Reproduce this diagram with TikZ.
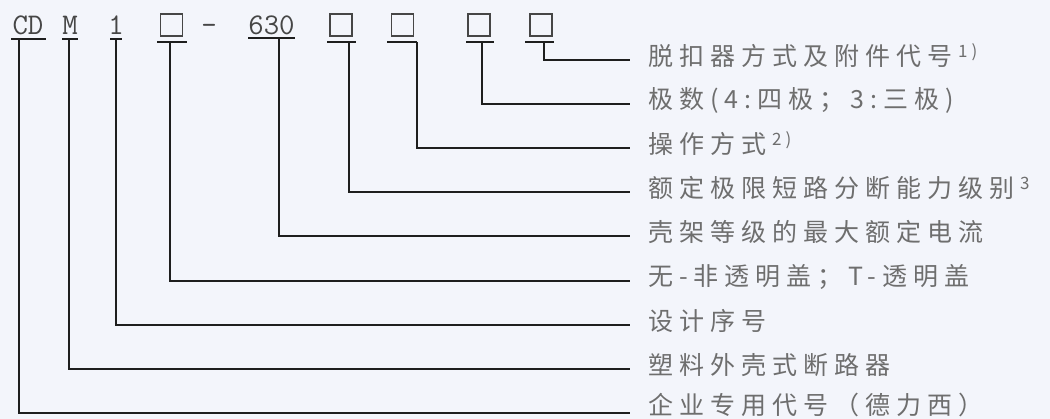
\documentclass[tikz,border=0pt]{standalone}
\usepackage{fontspec}
\newfontfamily\cjk{Noto Sans CJK SC}[LetterSpace=24]
\definecolor{bgcol}{RGB}{243,245,251}
\definecolor{inkcol}{RGB}{30,30,30}
\definecolor{codecol}{RGB}{70,70,70}
\definecolor{labcol}{RGB}{110,110,110}
\newcommand{\supnote}[1]{\hspace{6pt}\raisebox{8pt}{\fontsize{17}{17}\selectfont #1}}
\begin{document}
\begin{tikzpicture}[x=1pt,y=-1pt,
  ln/.style={draw=inkcol,line width=1.6pt,line join=miter},
  code/.style={inner sep=0pt,anchor=base,text=codecol,font=\ttfamily\fontsize{30}{30}\selectfont},
  sq/.style={draw=codecol,line width=1.4pt,minimum size=22pt,inner sep=0pt},
  lab/.style={inner sep=0pt,anchor=west,text=labcol,font=\cjk\fontsize{25}{25}\selectfont}]
\useasboundingbox (0,0) rectangle (1050,419);
\fill[bgcol] (0,0) rectangle (1050,419);

% code elements
\node[code] (cd) at (28,35) {CD};
\node[code] (m) at (70,35) {M};
\node[code] (one) at (116,35) {1};
\node[sq] (b1) at (171.5,25) {};
\node[code] (dash) at (209,35) {-};
\node[code] (n630) at (271.5,35) {630};
\node[sq] (b2) at (341,25) {};
\node[sq] (b3) at (402.5,25) {};
\node[sq] (b4) at (479,25) {};
\node[sq] (b5) at (541,25) {};

% underlines
\draw[ln] (11,39) -- (46,39);
\draw[ln] (62,39) -- (78,39);
\draw[ln] (110,39) -- (122,39);
\draw[ln] (157,42) -- (187,42);
\draw[ln] (248,38) -- (295,38);
\draw[ln] (327,42) -- (356,42);
\draw[ln] (387,42) -- (417,42);
\draw[ln] (466,42) -- (494,42);
\draw[ln] (525,42) -- (554,42);

% attachment points
\coordinate (tcd) at (19,39);
\coordinate (tm) at (69,39);
\coordinate (tone) at (116,39);
\coordinate (tb1) at (170,42);
\coordinate (t630) at (279,38);
\coordinate (tb2) at (349,42);
\coordinate (tb3) at (417,42);
\coordinate (tb4) at (482,42);
\coordinate (tb5) at (544,42);

% labels (centred slightly above their lines)
\node[lab] (l1) at (648,56) {脱扣器方式及附件代号\supnote{1)}};
\node[lab] (l2) at (648,100) {极数(4:四极；3:三极)};
\node[lab] (l3) at (648,144) {操作方式\supnote{2)}};
\node[lab] (l4) at (648,188) {额定极限短路分断能力级别\supnote{3}};
\node[lab] (l5) at (648,232) {壳架等级的最大额定电流};
\node[lab] (l6) at (648,277) {无-非透明盖；T-透明盖};
\node[lab] (l7) at (648,321) {设计序号};
\node[lab] (l8) at (648,365) {塑料外壳式断路器};
\node[lab] (l9) at (648,405) {企业专用代号（德力西）};

% connectors
\draw[ln] (tb5) |- ([xshift=-18pt,yshift=-4pt]l1.west);
\draw[ln] (tb4) |- ([xshift=-18pt,yshift=-4pt]l2.west);
\draw[ln] (tb3) |- ([xshift=-18pt,yshift=-4pt]l3.west);
\draw[ln] (tb2) |- ([xshift=-18pt,yshift=-4pt]l4.west);
\draw[ln] (t630) |- ([xshift=-18pt,yshift=-4pt]l5.west);
\draw[ln] (tb1) |- ([xshift=-18pt,yshift=-4pt]l6.west);
\draw[ln] (tone) |- ([xshift=-18pt,yshift=-4pt]l7.west);
\draw[ln] (tm) |- ([xshift=-18pt,yshift=-4pt]l8.west);
\draw[ln] (tcd) |- ([xshift=-18pt,yshift=-8pt]l9.west);
\end{tikzpicture}
\end{document}
